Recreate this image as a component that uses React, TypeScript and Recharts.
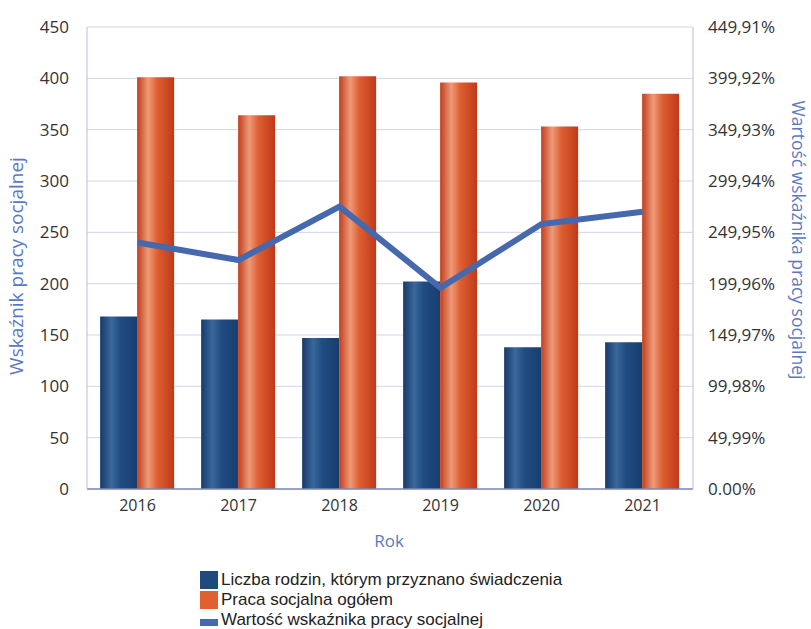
import React from "react";
import {
  ComposedChart,
  Bar,
  Line,
  XAxis,
  YAxis,
  CartesianGrid,
} from "recharts";

// Values
const years = ["2016", "2017", "2018", "2019", "2020", "2021"];
const rodziny = [168, 165, 147, 202, 138, 143];
const pracaOgolem = [401, 364, 402, 396, 353, 385];
const wskaznik = [240, 223, 275, 196, 258, 270];

const leftTicks = [0, 50, 100, 150, 200, 250, 300, 350, 400, 450];
const rightTicks = [0, 49.99, 99.98, 149.97, 199.96, 249.95, 299.94, 349.93, 399.92, 449.91];
const rightTickLabels = [
  "0.00%",
  "49,99%",
  "99,98%",
  "149,97%",
  "199,96%",
  "249,95%",
  "299,94%",
  "349,93%",
  "399,92%",
  "449,91%",
];

const chartData = years.map((rok, i) => ({
  rok,
  rodziny: rodziny[i],
  praca: pracaOgolem[i],
  wskaznik: wskaznik[i],
}));

const font = "'Open Sans', sans-serif";
const xTickStyle = { fontSize: 16, fill: "#333", fontFamily: font };
const yTickStyle = { fontSize: 17, fill: "#333", fontFamily: font };
const labelColor = "#5b78c2";

const legendItems = [
  { name: "Liczba rodzin, którym przyznano świadczenia", color: "#1f4a80", kind: "box" },
  { name: "Praca socjalna ogółem", color: "#e0602f", kind: "box" },
  { name: "Wartość wskaźnika pracy socjalnej", color: "#4668ad", kind: "line" },
];

export default function App() {
  return (
    <div style={{ position: "absolute", left: 0, top: 0, width: 811, height: 629, background: "#fff" }}>
      <ComposedChart
        width={811}
        height={629}
        data={chartData}
        margin={{ top: 27, right: 0, left: 0, bottom: 110 }}
        barCategoryGap="13%"
        barGap={0}
      >
        <defs>
          <linearGradient id="gradBlue" x1="0" y1="0" x2="1" y2="0">
            <stop offset="0%" stopColor="#173a68" />
            <stop offset="30%" stopColor="#3a679c" />
            <stop offset="55%" stopColor="#204c82" />
            <stop offset="100%" stopColor="#183e6e" />
          </linearGradient>
          <linearGradient id="gradOrange" x1="0" y1="0" x2="1" y2="0">
            <stop offset="0%" stopColor="#c23e1c" />
            <stop offset="30%" stopColor="#ee9a78" />
            <stop offset="55%" stopColor="#dd5e30" />
            <stop offset="100%" stopColor="#c0391a" />
          </linearGradient>
        </defs>
        <CartesianGrid vertical={false} stroke="#d3d3ea" yAxisId="left" />
        <XAxis
          dataKey="rok"
          tick={xTickStyle}
          tickLine={false}
          axisLine={{ stroke: "#7d88b8", strokeWidth: 1.5 }}
          tickMargin={5}
          height={30}
          label={(props: any) => {
            const vb = props.viewBox;
            return (
              <text x={vb.x + vb.width / 2 - 1} y={vb.y + 53} textAnchor="middle" dominantBaseline="middle" fill={labelColor} fontSize={17} fontFamily={font}>
                Rok
              </text>
            );
          }}
        />
        <YAxis
          yAxisId="left"
          domain={[0, 450]}
          ticks={leftTicks}
          interval={0}
          width={87}
          tick={yTickStyle}
          tickLine={false}
          axisLine={{ stroke: "#b7bedc" }}
          tickMargin={12}
          label={(props: any) => {
            const vb = props.viewBox;
            const cy = vb.y + vb.height / 2 + 8;
            return (
              <text x={18} y={cy} transform={`rotate(-90, 18, ${cy})`} textAnchor="middle" dominantBaseline="middle" fill={labelColor} fontSize={19} fontFamily={font}>
                Wskaźnik pracy socjalnej
              </text>
            );
          }}
        />
        <YAxis
          yAxisId="right"
          orientation="right"
          domain={[0, 449.91]}
          ticks={rightTicks}
          interval={0}
          width={118}
          tick={yTickStyle}
          tickFormatter={(v: number) => rightTickLabels[rightTicks.indexOf(v)] ?? ""}
          tickLine={false}
          axisLine={{ stroke: "#b7bedc" }}
          tickMargin={9}
          label={(props: any) => {
            const vb = props.viewBox;
            const cy = vb.y + vb.height / 2 - 18;
            return (
              <text x={797} y={cy} transform={`rotate(90, 797, ${cy})`} textAnchor="middle" dominantBaseline="middle" fill={labelColor} fontSize={17.5} fontFamily={font}>
                Wartość wskaźnika pracy socjalnej
              </text>
            );
          }}
        />
        <Bar yAxisId="left" dataKey="rodziny" fill="url(#gradBlue)" isAnimationActive={false} />
        <Bar yAxisId="left" dataKey="praca" fill="url(#gradOrange)" isAnimationActive={false} />
        <Line
          yAxisId="right"
          dataKey="wskaznik"
          type="linear"
          stroke="#4668ad"
          strokeWidth={6}
          dot={false}
          activeDot={false}
          isAnimationActive={false}
        />
      </ComposedChart>

      {/* Legend */}
      <div
        style={{
          position: "absolute",
          left: 200,
          top: 570,
          fontFamily: "'Liberation Sans', Arial, sans-serif",
          fontSize: 17,
          color: "#222",
          lineHeight: "20px",
        }}
      >
        {legendItems.map((it) => (
          <div key={it.name} style={{ display: "flex", alignItems: "center", height: 20 }}>
            <span
              style={{
                display: "inline-block",
                width: 18,
                height: it.kind === "box" ? 18 : 7,
                marginTop: it.kind === "box" ? 0 : 5,
                background: it.color,
                marginRight: 3,
              }}
            />
            {it.name}
          </div>
        ))}
      </div>
    </div>
  );
}
